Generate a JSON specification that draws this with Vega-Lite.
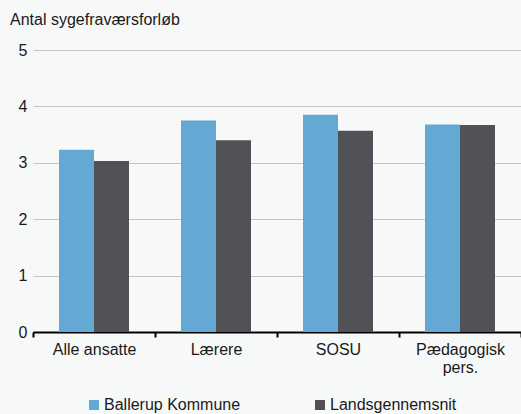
{
  "$schema": "https://vega.github.io/schema/vega-lite/v6.json",
  "autosize": "none",
  "width": 488,
  "height": 282,
  "padding": {"left": 33, "top": 50, "right": 0, "bottom": 82},
  "background": "#f7f8f8",
  "title": {
    "text": "Antal sygefraværsforløb", "anchor": "start", "frame": "group",
    "dx": -23, "offset": 14,
    "font": "Liberation Sans", "fontSize": 16, "fontWeight": "normal", "color": "#1a1a1a"
  },
  "data": {"values": [
    {"kategori": "Alle ansatte", "serie": "Ballerup Kommune", "vaerdi": 3.23},
    {"kategori": "Alle ansatte", "serie": "Landsgennemsnit", "vaerdi": 3.03},
    {"kategori": "Lærere", "serie": "Ballerup Kommune", "vaerdi": 3.75},
    {"kategori": "Lærere", "serie": "Landsgennemsnit", "vaerdi": 3.40},
    {"kategori": "SOSU", "serie": "Ballerup Kommune", "vaerdi": 3.85},
    {"kategori": "SOSU", "serie": "Landsgennemsnit", "vaerdi": 3.57},
    {"kategori": "Pædagogisk pers.", "serie": "Ballerup Kommune", "vaerdi": 3.68},
    {"kategori": "Pædagogisk pers.", "serie": "Landsgennemsnit", "vaerdi": 3.67}
  ]},
  "mark": {"type": "bar"},
  "encoding": {
    "x": {
      "field": "kategori", "type": "nominal", "sort": null,
      "scale": {"paddingInner": 0, "paddingOuter": 0},
      "axis": {
        "title": null, "labelAngle": 0, "tickBand": "extent",
        "domainColor": "#000000", "domainWidth": 2,
        "tickColor": "#000000", "tickWidth": 2, "tickSize": 5,
        "labelFont": "Liberation Sans", "labelFontSize": 16, "labelColor": "#1a1a1a",
        "labelPadding": 4, "labelLineHeight": 18,
        "labelExpr": "datum.value == 'Pædagogisk pers.' ? ['Pædagogisk', 'pers.'] : datum.value"
      }
    },
    "xOffset": {
      "field": "serie", "type": "nominal",
      "scale": {"paddingInner": 0, "paddingOuter": 0.743}
    },
    "y": {
      "field": "vaerdi", "type": "quantitative",
      "scale": {"domain": [0, 5], "nice": false},
      "axis": {
        "title": null,
        "values": [0, 1, 2, 3, 4, 5], "domain": false, "ticks": false,
        "gridColor": "#c4c4c4", "gridWidth": 1,
        "labelFont": "Liberation Sans", "labelFontSize": 16, "labelColor": "#1a1a1a",
        "labelPadding": 15, "labelAlign": "left", "labelBaseline": "middle"
      }
    },
    "color": {
      "field": "serie", "type": "nominal",
      "scale": {"domain": ["Ballerup Kommune", "Landsgennemsnit"], "range": ["#63a9d4", "#515257"]},
      "legend": {
        "title": null, "orient": "none", "direction": "horizontal",
        "legendX": 53, "legendY": 347,
        "symbolType": "square", "symbolSize": 100, "symbolStrokeWidth": 0,
        "labelFont": "Liberation Sans", "labelFontSize": 16, "labelColor": "#1a1a1a",
        "labelOffset": 2, "columnPadding": 71
      }
    }
  },
  "config": {"view": {"stroke": null}}
}
